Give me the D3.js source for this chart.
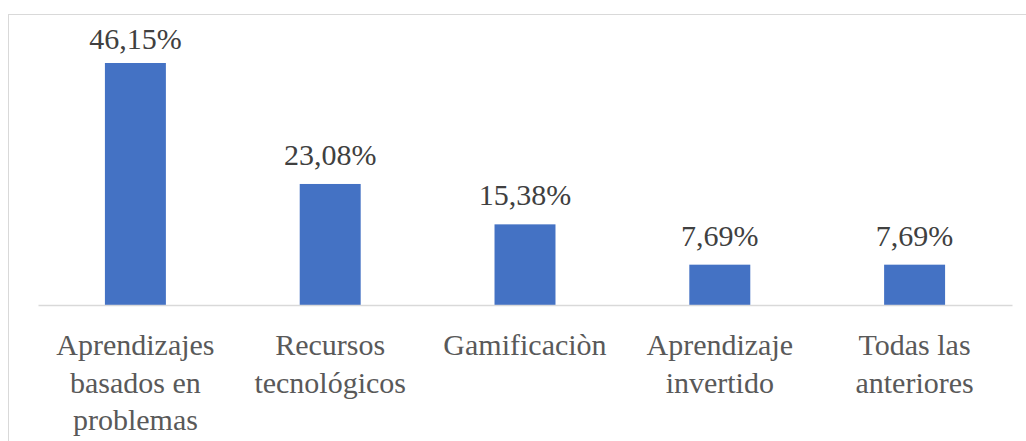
<!DOCTYPE html>
<html>
<head>
<meta charset="utf-8">
<script src="https://cdn.jsdelivr.net/npm/d3@7"></script>
<style>
    html, body { margin: 0; padding: 0; background: #fff; }
    svg { display: block; }
</style>
</head>
<body>
<svg id="chart" width="1026" height="441"></svg>
<script>
// datos del gráfico
const categories = ['Aprendizajes basados en problemas', 'Recursos tecnológicos', 'Gamificaciòn', 'Aprendizaje invertido', 'Todas las anteriores'];
const categoryLines = [
    ['Aprendizajes', 'basados en', 'problemas'],
    ['Recursos', 'tecnológicos'],
    ['Gamificaciòn'],
    ['Aprendizaje', 'invertido'],
    ['Todas las', 'anteriores']
];
const values = [46.15, 23.08, 15.38, 7.69, 7.69];
const valueLabels = ['46,15%', '23,08%', '15,38%', '7,69%', '7,69%'];

(function () {
    const svg = d3.select('#chart');
    const fontFamily = 'Liberation Serif, Times New Roman, DejaVu Serif, serif';
    const fontSize = 30;

    // marco del gráfico
    svg.append('rect')
        .attr('x', 8.5).attr('y', 14.5)
        .attr('width', 1100).attr('height', 500)
        .attr('fill', 'none')
        .attr('stroke', '#d9d9d9')
        .attr('stroke-width', 1);

    const x = d3.scaleBand()
        .domain(categories)
        .range([38, 1012])
        .paddingInner(0.687)
        .paddingOuter(0.3435);
    const y = d3.scaleLinear()
        .domain([0, 46.15])
        .range([305, 63]);

    const data = categories.map((c, i) => ({ c, v: values[i], label: valueLabels[i], lines: categoryLines[i] }));

    // barras
    svg.append('g').selectAll('rect')
        .data(data)
        .enter()
        .append('rect')
        .attr('x', d => x(d.c))
        .attr('y', d => y(d.v))
        .attr('width', x.bandwidth())
        .attr('height', d => y(0) - y(d.v))
        .attr('fill', '#4472c4');

    // eje x
    const axis = svg.append('g')
        .attr('transform', `translate(0,${y(0)})`)
        .call(d3.axisBottom(x).tickSize(0).tickFormat(''));
    axis.select('.domain').attr('stroke', '#d9d9d9').attr('stroke-width', 1.5);

    // etiquetas de categoría
    svg.append('g').selectAll('text')
        .data(data)
        .enter()
        .append('text')
        .attr('text-anchor', 'middle')
        .attr('fill', '#595959')
        .attr('font-family', fontFamily)
        .attr('font-size', fontSize)
        .each(function (d) {
            const t = d3.select(this);
            d.lines.forEach((line, j) => {
                t.append('tspan')
                    .attr('x', x(d.c) + x.bandwidth() / 2)
                    .attr('y', y(0) + 50 + j * 37.5)
                    .text(line);
            });
        });

    // etiquetas de valor
    svg.append('g').selectAll('text')
        .data(data)
        .enter()
        .append('text')
        .attr('x', d => x(d.c) + x.bandwidth() / 2)
        .attr('y', d => Math.max(y(d.v) - 19, 49))
        .attr('text-anchor', 'middle')
        .attr('fill', '#404040')
        .attr('font-family', fontFamily)
        .attr('font-size', fontSize)
        .text(d => d.label);
}());
</script>
</body>
</html>
